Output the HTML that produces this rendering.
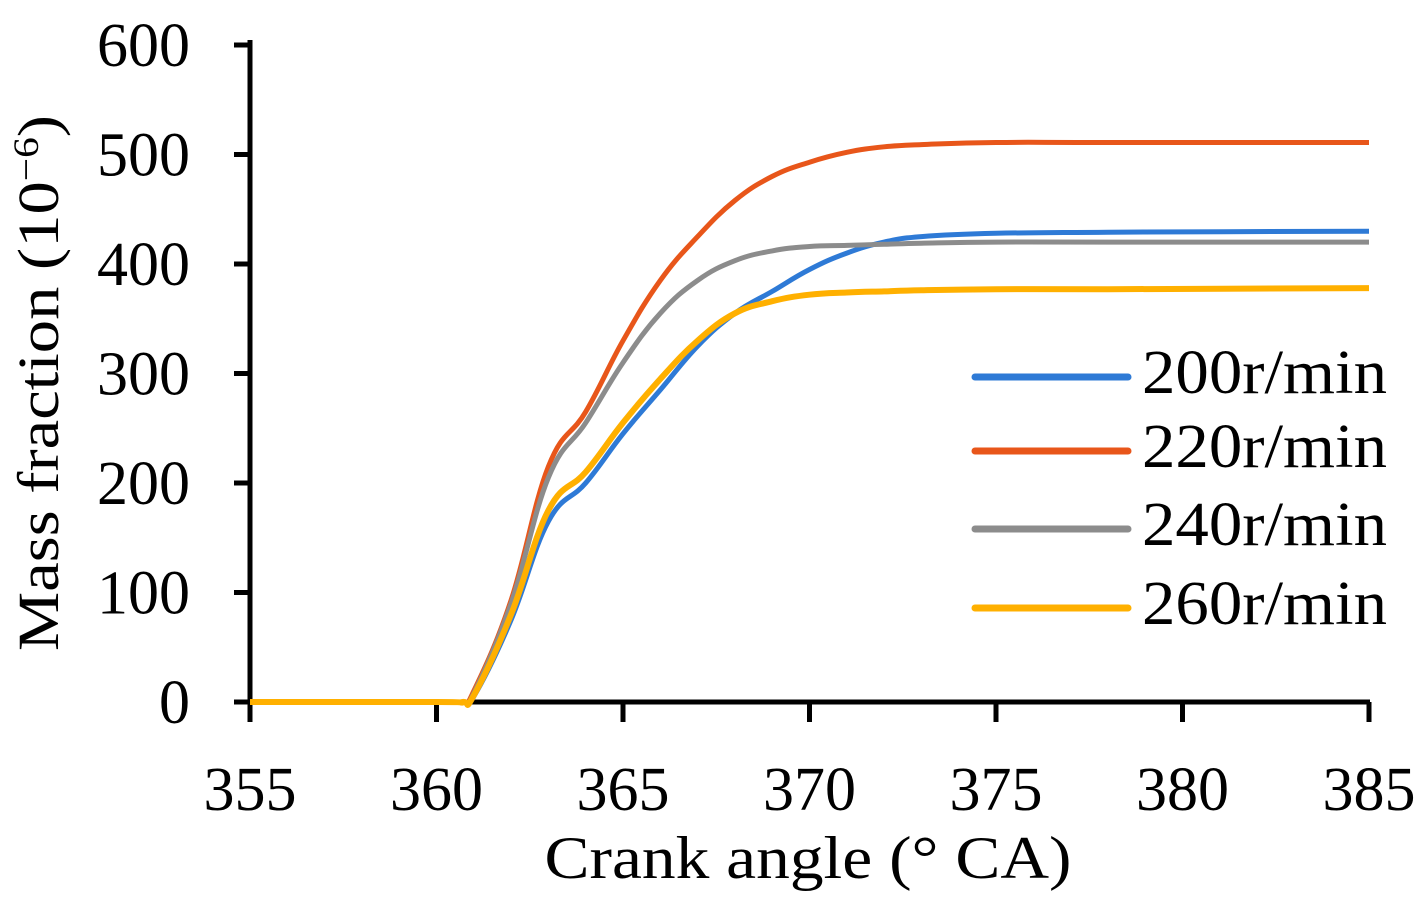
<!DOCTYPE html>
<html><head><meta charset="utf-8"><style>
html,body{margin:0;padding:0;background:#fff;}
svg{display:block;font-family:"Liberation Serif",serif;}
</style></head><body>
<svg id="chart" width="1424" height="908" viewBox="0 0 1424 908">
<g id="axes"></g>
<g id="series"></g>
<g id="legend"></g>
<text x="808" y="878" font-size="60" text-anchor="middle" textLength="527" lengthAdjust="spacingAndGlyphs">Crank angle (° CA)</text>
<text transform="translate(58,383) rotate(-90)" font-size="58" text-anchor="middle" textLength="536" lengthAdjust="spacingAndGlyphs">Mass fraction (10<tspan font-size="36" dy="-20">−6</tspan><tspan dy="20">)</tspan></text>
</svg>
<script>
const xTicks=[355,360,365,370,375,380,385];
const yTicks=[0,100,200,300,400,500,600];
const angles=[355,360,360.7,361,362,363,364,365,366,367,368,369,370,371,372,373,375,378,385];
const s200=[0,0,0,5,75,165,200,245,285,325,355,375,395,410,420,425,428,429,430];
const s220=[0,0,0,10,93,215,265,330,385,425,458,480,493,502,507,509,511,511,511];
const s240=[0,0,0,8,90,205,255,310,355,385,403,412,416,417,418,419,420,420,420];
const s260=[0,0,0,6,80,175,210,255,295,330,355,366,372,374,375,376,377,377,378];
const seriesNames=["200r/min","220r/min","240r/min","260r/min"];
const seriesColors=["#2e7ad6","#e8561a","#8c8c8c","#ffb000"];
const ns="http://www.w3.org/2000/svg";
function X(v){return 250+(v-355)*37.3;}
function Y(v){return 702-v*1.095;}
function el(t,a,p){const e=document.createElementNS(ns,t);for(const k in a)e.setAttribute(k,a[k]);p.appendChild(e);return e;}
function smooth(pts){
 let d='M'+pts[0][0].toFixed(1)+','+pts[0][1].toFixed(1);
 for(let i=0;i<pts.length-1;i++){
  const p0=pts[Math.max(0,i-1)],p1=pts[i],p2=pts[i+1],p3=pts[Math.min(pts.length-1,i+2)];
  const t=0.2;
  const c1=[p1[0]+(p2[0]-p0[0])*t,p1[1]+(p2[1]-p0[1])*t];
  const c2=[p2[0]-(p3[0]-p1[0])*t,p2[1]-(p3[1]-p1[1])*t];
  d+=' C'+c1.map(v=>v.toFixed(1)).join(',')+' '+c2.map(v=>v.toFixed(1)).join(',')+' '+p2[0].toFixed(1)+','+p2[1].toFixed(1);
 }
 return d;
}
const axes=document.getElementById('axes');
let e=el('line',{x1:250,y1:40,x2:250,y2:702,stroke:'#000','stroke-width':5},axes);


e=el('line',{x1:248,y1:702,x2:1370,y2:702,stroke:'#000','stroke-width':5},axes);


yTicks.forEach(v=>{
 const t=el('line',{x1:234,y1:Y(v),x2:250,y2:Y(v),stroke:'#000','stroke-width':5},axes);
 
 
 const l=el('text',{x:190,y:Y(v)+21,'font-size':62,'text-anchor':'end'},axes);
 l.textContent=v;
 
 
});
xTicks.forEach(v=>{
 const t=el('line',{x1:X(v),y1:702,x2:X(v),y2:722,stroke:'#000','stroke-width':5},axes);
 
 
 const l=el('text',{x:X(v),y:810,'font-size':62,'text-anchor':'middle'},axes);
 l.textContent=v;
 
 
});
const sg=document.getElementById('series');
const all=[s200,s220,s240,s260];
[0,1,2,3].forEach(i=>{
 const pts=angles.map((a,j)=>[X(a),Y(all[i][j])]);
 const p=el('path',{d:smooth(pts),fill:'none',stroke:seriesColors[i],'stroke-width':i==3?6:5,'stroke-linejoin':'round'},sg);
 
 
});
const lg=document.getElementById('legend');
const ly=[377,451,529,608];
[0,1,2,3].forEach(i=>{
 const l=el('line',{x1:975,y1:ly[i],x2:1128,y2:ly[i],stroke:seriesColors[i],'stroke-width':7,'stroke-linecap':'round'},lg);
 
 
 const t=el('text',{x:1142,y:ly[i]+16,'font-size':62,textLength:245,lengthAdjust:'spacingAndGlyphs'},lg);
 t.textContent=seriesNames[i];
 
 
});
</script>
</body></html>
